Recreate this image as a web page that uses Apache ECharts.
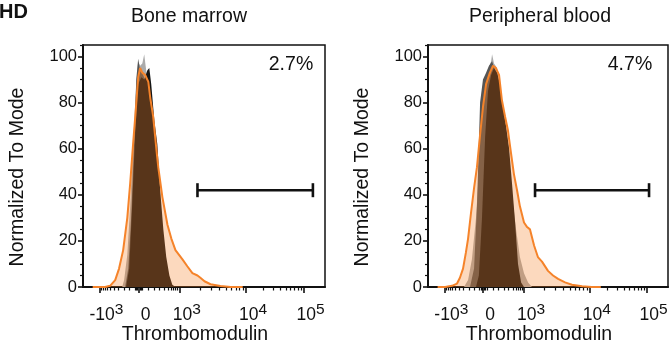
<!DOCTYPE html>
<html>
<head>
<meta charset="utf-8">
<script src="https://cdn.jsdelivr.net/npm/echarts@6/dist/echarts.min.js"></script>
<style>
html,body{margin:0;padding:0;background:#fff;}
#chart{width:671px;height:342px;}
</style>
</head>
<body>
<div id="chart"></div>
<script>
// ---------- data (x in display channels 0..1000 of the biexponential axis, y = % of mode) ----------
const panelTitles = ['Bone marrow', 'Peripheral blood'];
const gatePercents = ['2.7%', '4.7%'];
const xAxisName = 'Thrombomodulin';
const yAxisName = 'Normalized To Mode';

// major x ticks (channel position) and labels (base, exponent)
const xTickChannels = [68, 230, 400, 674, 911];
const xTickBase = ['-10', '0', '10', '10', '10'];
const xTickExp = ['3', '', '3', '4', '5'];
const yTickValues = [0, 20, 40, 60, 80, 100];
const yMinorValues = [5, 10, 15, 25, 30, 35, 45, 50, 55, 65, 70, 75, 85, 90, 95, 105];
// fractional positions of minor ticks inside the linear part (0 .. 10^3)
const linearMinorFractions = [0.03, 0.06, 0.09, 0.24, 0.37, 0.51, 0.61, 0.73, 0.80, 0.85, 0.90, 0.95];
const decadeMultipliers = [2, 3, 4, 5, 6, 7, 8, 9];

// gates [from channel, to channel, level]
const bmGate = [473, 950, 42];
const pbGate = [446, 921, 42];

// Bone marrow histograms
const bmLightGrayX = [162, 170, 183, 195, 207, 220, 228, 236, 245, 253, 261, 270, 282, 295, 307, 319, 332, 344, 357, 369];
const bmLightGrayY = [0, 3, 14, 35, 62, 88, 98, 96, 97, 101, 94, 88, 80, 66, 48, 30, 16, 7, 2, 0];
const bmDarkGrayX = [174, 187, 199, 212, 220, 228, 236, 249, 261, 274, 286, 299, 311, 324, 336, 349];
const bmDarkGrayY = [0, 8, 30, 65, 90, 99, 94, 92, 88, 76, 60, 40, 22, 9, 2, 0];
const bmBlackX = [178, 191, 203, 216, 228, 241, 253, 266, 274, 282, 295, 307, 319, 332, 344, 357, 369, 382];
const bmBlackY = [0, 8, 35, 68, 88, 91, 90, 94, 95, 88, 72, 62, 42, 25, 13, 5, 1, 0];
const bmOrangeX = [40, 91, 112, 133, 149, 166, 183, 195, 207, 216, 228, 236, 245, 257, 270, 278, 290, 303, 311, 328, 349, 365, 382, 411, 431, 452, 473, 485, 502, 527, 568, 610, 660];
const bmOrangeY = [0, 0, 0.5, 3, 8, 16, 30, 45, 62, 74, 91, 95, 93, 92, 89, 82, 74, 60, 52, 39, 27, 21, 16, 12, 9, 6, 5, 4, 2.5, 1.2, 0.4, 0, 0];

// Peripheral blood histograms
const pbLightGrayX = [150, 167, 183, 200, 212, 225, 238, 250, 263, 267, 275, 288, 300, 317, 333, 350, 367, 383, 400, 417, 433];
const pbLightGrayY = [0, 3, 12, 30, 50, 72, 88, 94, 98, 101, 97, 95, 86, 72, 58, 40, 25, 13, 6, 2, 0];
const pbDarkGrayX = [175, 192, 204, 217, 229, 242, 254, 267, 279, 292, 308, 325, 342, 358, 375, 392];
const pbDarkGrayY = [0, 8, 35, 80, 90, 93, 96, 98, 94, 88, 74, 58, 38, 18, 5, 0];
const pbBlackX = [200, 212, 225, 238, 250, 263, 275, 288, 300, 313, 325, 338, 350, 363, 375, 388, 400];
const pbBlackY = [0, 5, 30, 65, 85, 92, 95, 93, 88, 78, 70, 60, 45, 28, 10, 2, 0];
const pbOrangeX = [40, 71, 100, 121, 133, 146, 158, 167, 179, 192, 204, 217, 229, 242, 258, 271, 283, 296, 308, 321, 333, 346, 358, 371, 383, 400, 413, 425, 442, 458, 475, 500, 521, 542, 571, 600, 642, 683, 720];
const pbOrangeY = [0, 0, 0.5, 1.5, 4, 8, 15, 21, 32, 43, 52, 66, 78, 88, 93, 96, 95, 92, 81, 74, 68, 58, 49, 42, 35, 28, 26, 25, 18, 13, 11, 7, 5, 3.5, 2, 1, 0.3, 0, 0];

// ---------- helpers ----------
const zip = (xs, ys) => xs.map((x, i) => [x, ys[i]]);
const FONT = "'Liberation Sans', Arial, Helvetica, sans-serif";
const INK = '#111';

// minor tick channels derived from the major tick positions
function minorChannels() {
  const [cNeg, c0, c3, c4, c5] = xTickChannels;
  const out = [];
  linearMinorFractions.forEach(f => { out.push(c0 + (c3 - c0) * f); out.push(c0 - (c0 - cNeg) * f); });
  decadeMultipliers.forEach(m => {
    out.push(c3 + (c4 - c3) * Math.log10(m));
    out.push(c4 + (c5 - c4) * Math.log10(m));
  });
  return out;
}
const xMinor = minorChannels();

function histSeries(gi, data, color, opts) {
  return Object.assign({
    type: 'line', xAxisIndex: gi * 2, yAxisIndex: gi * 2, data: data,
    symbol: 'none', smooth: false, silent: true,
    lineStyle: { width: 0, color: color },
    areaStyle: { color: color, opacity: 1 }
  }, opts || {});
}

function gateSeries(gi, gate) {
  return {
    type: 'custom', xAxisIndex: gi * 2, yAxisIndex: gi * 2, silent: true, z: 10,
    data: [gate], encode: { x: [0, 1], y: 2 },
    renderItem: function (params, api) {
      const a = api.coord([api.value(0), api.value(2)]);
      const b = api.coord([api.value(1), api.value(2)]);
      const st = { stroke: INK, lineWidth: 2.6 };
      return {
        type: 'group', children: [
          { type: 'line', shape: { x1: a[0], y1: a[1], x2: b[0], y2: b[1] }, style: st },
          { type: 'line', shape: { x1: a[0], y1: a[1] - 7, x2: a[0], y2: a[1] + 7 }, style: st },
          { type: 'line', shape: { x1: b[0], y1: b[1] - 7, x2: b[0], y2: b[1] + 7 }, style: st }
        ]
      };
    }
  };
}

const grids = [
  { left: 83, top: 45, width: 242, height: 242 },
  { left: 428, top: 45, width: 240, height: 242 }
];

const xAxes = [], yAxes = [];
grids.forEach((g, gi) => {
  xAxes.push({
    type: 'value', gridIndex: gi, min: 0, max: 1000, position: 'bottom',
    name: xAxisName, nameLocation: 'middle', nameGap: 38, nameMoveOverlap: false,
    nameTextStyle: { fontFamily: FONT, fontSize: 19.5, color: INK, padding: [0, 18, 0, 0] },
    axisLine: { show: true, onZero: false, lineStyle: { color: INK, width: 2 } },
    axisTick: { show: true, length: 6, lineStyle: { color: INK, width: 1.6 }, customValues: xTickChannels },
    axisLabel: {
      show: true, customValues: xTickChannels, margin: 15, padding: [0, 0, 0, 14],
      formatter: function (v) {
        const i = xTickChannels.indexOf(v);
        if (i < 0) return '';
        return '{b|' + xTickBase[i] + '}' + (xTickExp[i] ? '{s|' + xTickExp[i] + '}' : '');
      },
      rich: {
        b: { fontFamily: FONT, fontSize: 17.5, color: INK, lineHeight: 22, verticalAlign: 'bottom' },
        s: { fontFamily: FONT, fontSize: 15.5, color: INK, lineHeight: 22, verticalAlign: 'top', padding: [0, 0, 10, 0] }
      }
    },
    splitLine: { show: false }
  });
  xAxes.push({
    type: 'value', gridIndex: gi, min: 0, max: 1000, position: 'bottom',
    axisLine: { show: false },
    axisTick: { show: true, length: 3.5, lineStyle: { color: INK, width: 1.2 }, customValues: xMinor },
    axisLabel: { show: false },
    splitLine: { show: false }
  });
  yAxes.push({
    type: 'value', gridIndex: gi, min: 0, max: 105, position: 'left',
    name: yAxisName, nameLocation: 'middle', nameRotate: 90, nameGap: 55,
    nameTextStyle: { fontFamily: FONT, fontSize: 19.5, color: INK, padding: [0, 0, 0, -22] },
    axisLine: { show: true, onZero: false, lineStyle: { color: INK, width: 2 } },
    axisTick: { show: true, length: 5, lineStyle: { color: INK, width: 1.6 }, customValues: yTickValues },
    axisLabel: { show: true, customValues: yTickValues, margin: 6, fontFamily: FONT, fontSize: 16.5, color: INK },
    splitLine: { show: false }
  });
  yAxes.push({
    type: 'value', gridIndex: gi, min: 0, max: 105, position: 'left',
    axisLine: { show: false },
    axisTick: { show: true, length: 3, lineStyle: { color: INK, width: 1.2 }, customValues: yMinorValues },
    axisLabel: { show: false },
    splitLine: { show: false }
  });
});

const gridOpts = grids.map(g => Object.assign({ show: true, borderColor: INK, borderWidth: 1.5, backgroundColor: 'transparent', containLabel: false, outerBoundsMode: 'none' }, g));

const orangeLine = '#f5832a';
const orangeFill = 'rgba(245,130,40,0.43)';
const series = [
  histSeries(0, zip(bmLightGrayX, bmLightGrayY), '#ababab'),
  histSeries(0, zip(bmDarkGrayX, bmDarkGrayY), '#555555'),
  histSeries(0, zip(bmBlackX, bmBlackY), '#151515'),
  histSeries(0, zip(bmOrangeX, bmOrangeY), orangeLine, { lineStyle: { width: 2, color: orangeLine }, areaStyle: { color: orangeFill } }),
  gateSeries(0, bmGate),
  histSeries(1, zip(pbLightGrayX, pbLightGrayY), '#ababab'),
  histSeries(1, zip(pbDarkGrayX, pbDarkGrayY), '#555555'),
  histSeries(1, zip(pbBlackX, pbBlackY), '#151515'),
  histSeries(1, zip(pbOrangeX, pbOrangeY), orangeLine, { lineStyle: { width: 2, color: orangeLine }, areaStyle: { color: orangeFill } }),
  gateSeries(1, pbGate)
];

const txt = (x, y, text, size, extra) => ({
  type: 'text', x: x, y: y, silent: true,
  style: Object.assign({ text: text, fontFamily: FONT, fontSize: size, fill: INK, align: 'center', verticalAlign: 'middle' }, extra || {})
});

const chart = echarts.init(document.getElementById('chart'), null, { renderer: 'canvas' });
chart.setOption({
  animation: false,
  backgroundColor: '#fff',
  grid: gridOpts,
  xAxis: xAxes,
  yAxis: yAxes,
  series: series,
  graphic: [
    txt(-1, 12, 'HD', 20, { align: 'left', fontWeight: 'bold' }),
    txt(189, 17, panelTitles[0], 19.5),
    txt(540, 17, panelTitles[1], 19.5),
    txt(291, 65, gatePercents[0], 19.5),
    txt(630, 65, gatePercents[1], 19.5)
  ]
});
</script>
</body>
</html>
